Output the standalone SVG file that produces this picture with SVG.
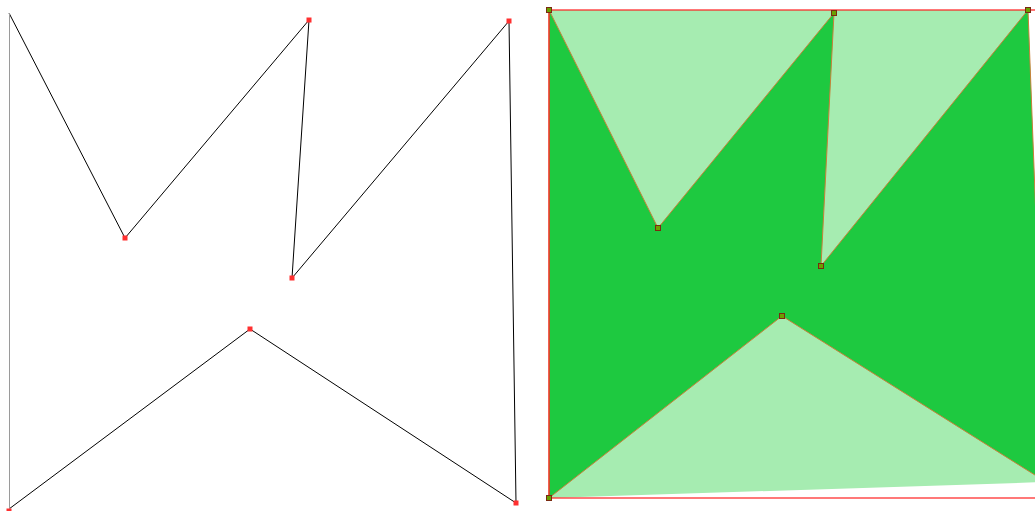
<svg xmlns="http://www.w3.org/2000/svg" width="1035" height="511" viewBox="0 0 1035 511">
<style>
.edge{fill:none;stroke:#000;stroke-width:1}
.edge-gray{fill:none;stroke:#9a9a9a;stroke-width:1}
.vmark{fill:#ff3030}
.hull{fill:#a6ecb1}
.poly{fill:#1ec940;stroke:#c8803a;stroke-width:1}
.bbox{fill:none;stroke:#ff1e1e;stroke-width:1.2}
.gmark{fill:#6aa000;stroke:#7a2a10;stroke-width:1}
</style>
<rect width="1035" height="511" fill="#fff"/>
<g id="left-polygon">
<polyline class="edge" points="9,13 125,238 309,20 292,278 509,21 516,503 250,329 9,509"/>
<line class="edge-gray" x1="9.5" y1="13" x2="9.5" y2="509"/>
</g>
<g id="left-vertices">
<rect class="vmark" x="122.5" y="235.5" width="5" height="5"/>
<rect class="vmark" x="306.5" y="17.5" width="5" height="5"/>
<rect class="vmark" x="289.5" y="275.5" width="5" height="5"/>
<rect class="vmark" x="506.5" y="18.5" width="5" height="5"/>
<rect class="vmark" x="513.5" y="500.5" width="5" height="5"/>
<rect class="vmark" x="247.5" y="326.5" width="5" height="5"/>
<rect class="vmark" x="6.5" y="508.5" width="5" height="5"/>
</g>
<g id="right-figure">
<polygon class="hull" points="549,10 1028,10 1046,482 549,498"/>
<polygon class="poly" points="549,10 658,228 834,13 821,266 1028,10 1046,482 782,316 549,498"/>
<rect class="bbox" x="549" y="10" width="497" height="488"/>
</g>
<g id="right-vertices">
<rect class="gmark" x="546.5" y="7.5" width="5" height="5"/>
<rect class="gmark" x="655.5" y="225.5" width="5" height="5"/>
<rect class="gmark" x="831.5" y="10.5" width="5" height="5"/>
<rect class="gmark" x="818.5" y="263.5" width="5" height="5"/>
<rect class="gmark" x="1025.5" y="7.5" width="5" height="5"/>
<rect class="gmark" x="779.5" y="313.5" width="5" height="5"/>
<rect class="gmark" x="546.5" y="495.5" width="5" height="5"/>
</g>
</svg>
